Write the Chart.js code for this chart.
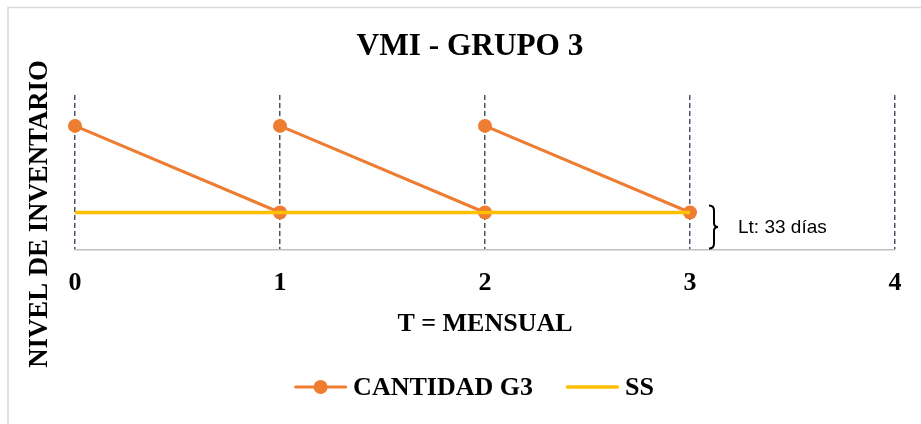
<!DOCTYPE html>
<html>
<head>
<meta charset="utf-8">
<script src="https://cdn.jsdelivr.net/npm/chart.js@4/dist/chart.umd.min.js"></script>
<style>
  html, body { margin: 0; padding: 0; background: #ffffff; }
  #wrap { width: 921px; height: 424px; }
</style>
</head>
<body>
<div id="wrap"><canvas id="c" width="921" height="424"></canvas></div>
<script>
// Periods on the horizontal axis (monthly)
const periodos = [0, 1, 2, 3, 4];

// Inventory saw-tooth: restocked at the start of each month, drawn down to safety stock
const cantidadT  = [0, 1, 1, 1, 2, 2, 2, 3];
const cantidadG3 = [100, 30, null, 100, 30, null, 100, 30];

// Safety stock level
const ssT     = [0, 3];
const ssNivel = [30, 30];

// Lead-time annotation
const leadTimeTexto = 'Lt: 33 días';
const leadTimeDesde = 0;
const leadTimeHasta = 30;

const tituloGrafico = 'VMI - GRUPO 3';
const tituloEjeY = 'NIVEL DE INVENTARIO';

const NARANJA = '#ED7D31';
const AMARILLO = '#FFC000';
const SERIF = '"Liberation Serif", "Times New Roman", serif';
const FRAME_CX = 470;   // horizontal centre of the chart frame

// Thin frame on the left and top edges, plus the chart title and the rotated y title
const framePlugin = {
  id: 'frame',
  beforeDraw(chart) {
    const ctx = chart.ctx;
    ctx.save();
    ctx.strokeStyle = '#D9D9D9';
    ctx.lineWidth = 1.5;
    ctx.beginPath();
    ctx.moveTo(8, 424); ctx.lineTo(8, 7.5); ctx.lineTo(921, 7.5);
    ctx.stroke();

    ctx.fillStyle = '#000000';
    ctx.textAlign = 'center';
    ctx.textBaseline = 'middle';
    ctx.font = 'bold 31.3px ' + SERIF;
    ctx.fillText(tituloGrafico, FRAME_CX, 47);

    ctx.translate(39, 214);
    ctx.rotate(-Math.PI / 2);
    ctx.font = 'bold 26.8px ' + SERIF;
    ctx.fillText(tituloEjeY, 0, 1);
    ctx.restore();
  }
};

// Legend below the axis: line (with marker) swatch followed by the series name
const legendPlugin = {
  id: 'customLegend',
  afterDraw(chart) {
    const ctx = chart.ctx;
    const sets = chart.data.datasets;
    const iconW = 53, gapText = 6, gapItem = 33, yMid = 387;
    ctx.save();
    ctx.font = 'bold 26px ' + SERIF;
    const widths = sets.map(ds => ctx.measureText(ds.label).width);
    let total = 0;
    widths.forEach((w, i) => { total += iconW + gapText + w + (i < widths.length - 1 ? gapItem : 0); });
    let x = FRAME_CX + 4 - total / 2;
    sets.forEach((ds, i) => {
      ctx.strokeStyle = ds.borderColor;
      ctx.lineWidth = ds.borderWidth;
      ctx.lineCap = 'round';
      ctx.beginPath();
      ctx.moveTo(x + 1.5, yMid); ctx.lineTo(x + iconW - 1.5, yMid);
      ctx.stroke();
      if (ds.pointRadius > 0) {
        ctx.fillStyle = ds.pointBackgroundColor;
        ctx.beginPath();
        ctx.arc(x + iconW / 2, yMid, ds.pointRadius, 0, Math.PI * 2);
        ctx.fill();
      }
      ctx.fillStyle = '#000000';
      ctx.textAlign = 'left';
      ctx.textBaseline = 'middle';
      ctx.fillText(ds.label, x + iconW + gapText, yMid + 1);
      x += iconW + gapText + widths[i] + gapItem;
    });
    ctx.restore();
  }
};

// Curly brace and lead-time label next to the last reorder point
const leadTimePlugin = {
  id: 'leadTime',
  afterDatasetsDraw(chart) {
    const { ctx, scales: { x, y } } = chart;
    const bx = x.getPixelForValue(ssT[ssT.length - 1]) + 24;
    const top = y.getPixelForValue(leadTimeHasta) - 7;
    const bot = y.getPixelForValue(leadTimeDesde) - 1;
    const mid = (top + bot) / 2;
    ctx.save();
    ctx.strokeStyle = '#000000';
    ctx.lineWidth = 2;
    ctx.beginPath();
    ctx.moveTo(bx - 5, top);
    ctx.quadraticCurveTo(bx, top, bx, top + 5);
    ctx.lineTo(bx, mid - 4);
    ctx.quadraticCurveTo(bx, mid, bx + 4, mid);
    ctx.quadraticCurveTo(bx, mid, bx, mid + 4);
    ctx.lineTo(bx, bot - 5);
    ctx.quadraticCurveTo(bx, bot, bx - 5, bot);
    ctx.stroke();
    ctx.fillStyle = '#000000';
    ctx.font = '19px "Liberation Sans", Arial, sans-serif';
    ctx.textBaseline = 'middle';
    ctx.textAlign = 'left';
    ctx.fillText(leadTimeTexto, bx + 24, mid + 1);
    ctx.restore();
  }
};

new Chart(document.getElementById('c'), {
  type: 'line',
  data: {
    datasets: [
      {
        label: 'CANTIDAD G3',
        data: cantidadT.map((t, i) => ({ x: t, y: cantidadG3[i] })),
        borderColor: NARANJA,
        backgroundColor: NARANJA,
        borderWidth: 3,
        pointStyle: 'circle',
        pointRadius: 7,
        pointHoverRadius: 7,
        pointBorderWidth: 0,
        pointBackgroundColor: NARANJA,
        spanGaps: false,
        tension: 0,
        clip: false,
        order: 1
      },
      {
        label: 'SS',
        data: ssT.map((t, i) => ({ x: t, y: ssNivel[i] })),
        borderColor: AMARILLO,
        backgroundColor: AMARILLO,
        borderWidth: 3.5,
        pointRadius: 0,
        tension: 0,
        clip: false,
        order: 0
      }
    ]
  },
  options: {
    responsive: false,
    animation: false,
    events: [],
    layout: { padding: { left: 75, top: 95, right: 26, bottom: 84 } },
    plugins: {
      tooltip: { enabled: false },
      title: { display: false },
      legend: { display: false }
    },
    scales: {
      x: {
        type: 'linear',
        min: periodos[0],
        max: periodos[periodos.length - 1],
        afterBuildTicks(scale) { scale.ticks = periodos.map(v => ({ value: v })); },
        ticks: {
          color: '#000000',
          font: { family: SERIF, size: 26, weight: 'bold' },
          padding: 18,
          maxRotation: 0
        },
        grid: {
          color: '#44546A',
          lineWidth: 1.5,
          drawTicks: false
        },
        border: { display: true, color: '#BFBFBF', width: 1.5, dash: [5, 3] },
        title: {
          display: true,
          text: 'T = MENSUAL',
          color: '#000000',
          font: { family: SERIF, size: 26, weight: 'bold' },
          padding: { top: -8, bottom: 0 }
        }
      },
      y: {
        display: false,
        min: 0,
        max: 125
      }
    }
  },
  plugins: [framePlugin, leadTimePlugin, legendPlugin]
});
</script>
</body>
</html>
